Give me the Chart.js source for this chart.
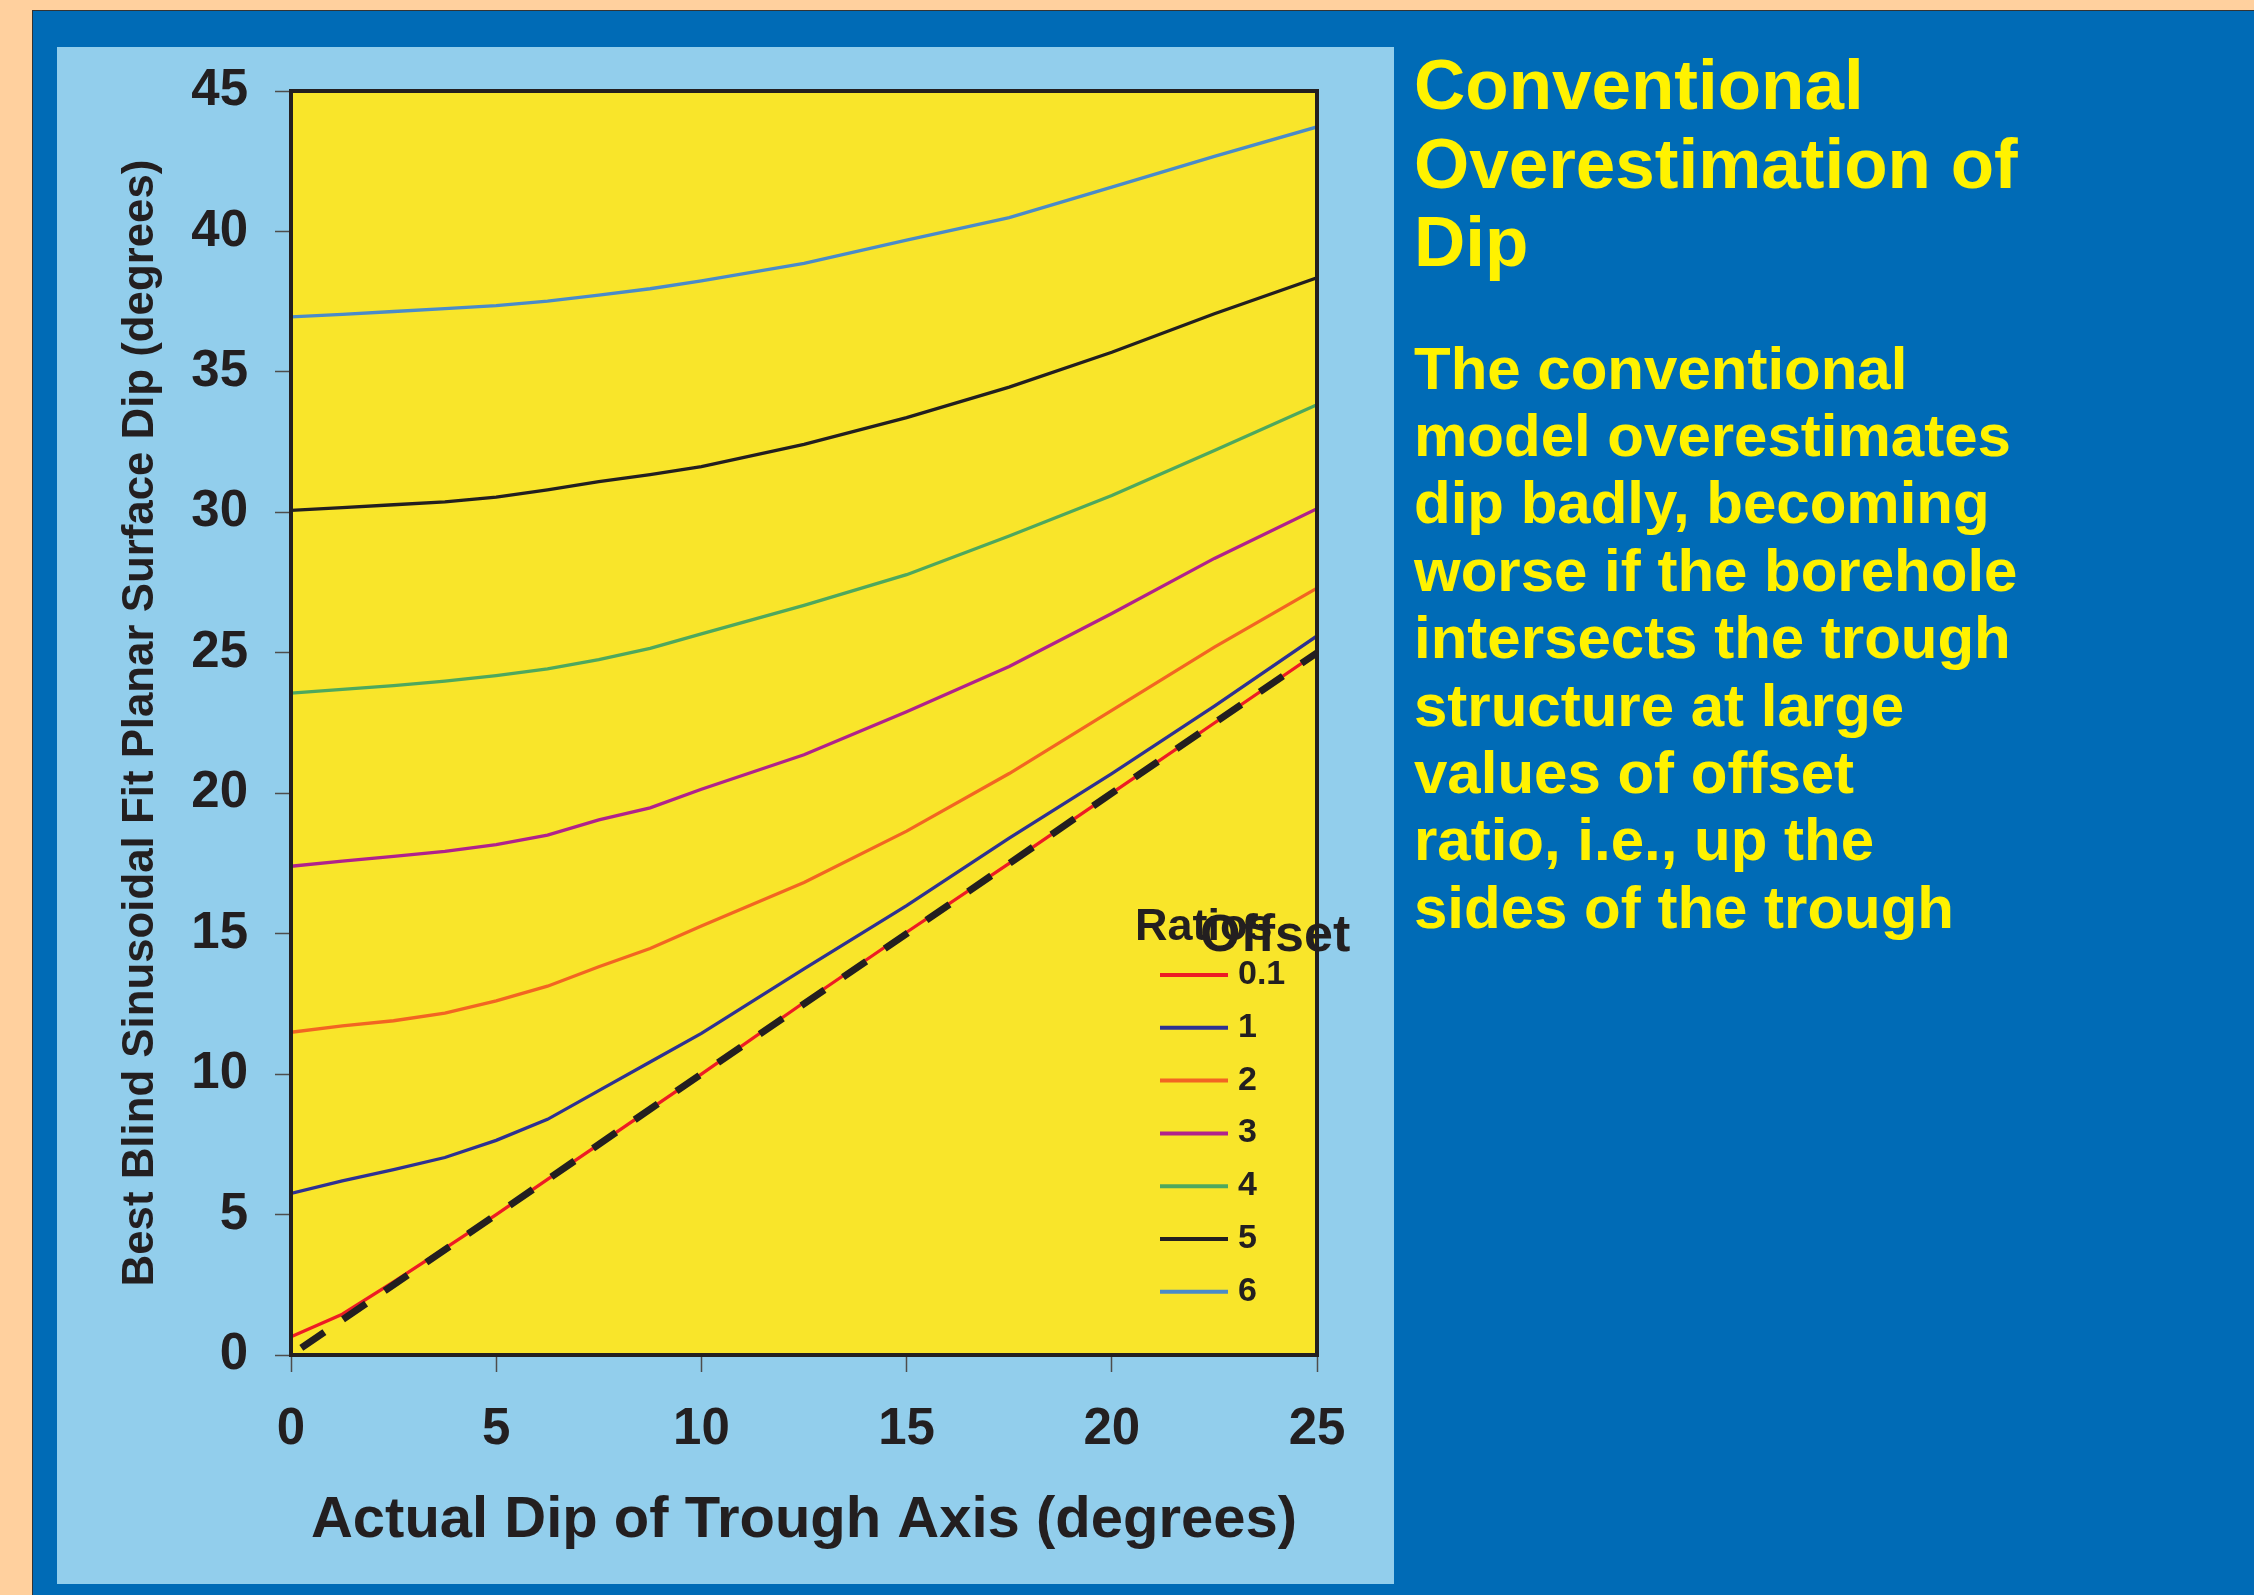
<!DOCTYPE html>
<html>
<head>
<meta charset="utf-8">
<script src="https://cdn.jsdelivr.net/npm/chart.js@4.4.1/dist/chart.umd.min.js"></script>
<style>
  html, body { margin:0; padding:0; width:2254px; height:1595px; overflow:hidden; background:#FFD09E; }
  #bluePanel { position:absolute; left:32px; top:10px; width:2222px; height:1585px; background:#006BB6;
               border-top:1px solid #333; border-left:1px solid #333; box-sizing:border-box; }
  #lightPanel { position:absolute; left:57px; top:47px; width:1337px; height:1537px; background:#92CEEC; }
  #chartCanvas { position:absolute; left:57px; top:47px; }
  .txt { position:absolute; color:#FFF200; font-family:"Liberation Sans", Arial, sans-serif; font-weight:bold; white-space:nowrap; }
  #title { left:1414px; top:46px; font-size:71px; line-height:78.5px; }
  #body { left:1414px; top:334.5px; font-size:60px; line-height:67.4px; }
</style>
</head>
<body>
<div id="bluePanel"></div>
<div id="lightPanel"></div>
<canvas id="chartCanvas" width="1337" height="1537"></canvas>
<div class="txt" id="title">Conventional<br>Overestimation of<br>Dip</div>
<div class="txt" id="body">The conventional<br>model overestimates<br>dip badly, becoming<br>worse if the borehole<br>intersects the trough<br>structure at large<br>values of offset<br>ratio, i.e., up the<br>sides of the trough</div>
<script>
// ---- data ----
const actualDip = [0, 1.25, 2.5, 3.75, 5, 6.25, 7.5, 8.75, 10, 12.5, 15, 17.5, 20, 22.5, 25];
const ratio01 = [0.65, 1.45, 2.6, 3.8, 5.0, 6.25, 7.5, 8.75, 10.0, 12.55, 15.05, 17.5, 20.0, 22.5, 25.0];
const ratio1  = [5.75, 6.2, 6.6, 7.03, 7.64, 8.39, 9.41, 10.43, 11.45, 13.75, 16.0, 18.4, 20.7, 23.1, 25.6];
const ratio2  = [11.49, 11.72, 11.9, 12.17, 12.61, 13.13, 13.82, 14.47, 15.27, 16.82, 18.65, 20.7, 22.95, 25.2, 27.3];
const ratio3  = [17.4, 17.58, 17.75, 17.93, 18.17, 18.51, 19.05, 19.48, 20.14, 21.37, 22.9, 24.51, 26.4, 28.36, 30.13];
const ratio4  = [23.56, 23.7, 23.83, 23.99, 24.19, 24.43, 24.76, 25.16, 25.67, 26.69, 27.78, 29.16, 30.6, 32.2, 33.83];
const ratio5  = [30.07, 30.17, 30.27, 30.37, 30.54, 30.8, 31.09, 31.34, 31.63, 32.42, 33.37, 34.46, 35.7, 37.07, 38.35];
const ratio6  = [36.96, 37.05, 37.15, 37.25, 37.36, 37.52, 37.73, 37.96, 38.24, 38.86, 39.69, 40.49, 41.58, 42.67, 43.72];
const refX = [0, 25];
const refY = [0, 25];
const seriesLabels = ["0.1", "1", "2", "3", "4", "5", "6"];
const seriesValues = [ratio01, ratio1, ratio2, ratio3, ratio4, ratio5, ratio6];
const seriesColors = ["#ED1C24", "#2E3192", "#F26522", "#B0228C", "#4EA85E", "#231F20", "#4A8BC9"];
const legendTitleA = "Ratios";
const legendTitleB = "Offset";
const xTitle = "Actual Dip of Trough Axis (degrees)";
const yTitle = "Best Blind Sinusoidal Fit Planar Surface Dip (degrees)";

const FONT = '"Liberation Sans", Arial, Helvetica, sans-serif';
const DARK = '#231F20';

const toPoints = (xs, ys) => xs.map((x, i) => ({x: x, y: ys[i]}));

const datasets = seriesValues.map((vals, i) => ({
  label: seriesLabels[i],
  data: toPoints(actualDip, vals),
  borderColor: seriesColors[i],
  borderWidth: 3.3,
  pointRadius: 0,
  tension: 0,
  fill: false,
  order: 1
}));
datasets.push({
  label: "reference",
  isReference: true,
  data: toPoints(refX, refY),
  borderColor: DARK,
  borderWidth: 7,
  borderDash: [28, 22.5],
  borderDashOffset: 38,
  borderCapStyle: 'butt',
  pointRadius: 0,
  tension: 0,
  fill: false,
  order: 0
});

const plotDecor = {
  id: 'plotDecor',
  beforeDatasetsDraw(chart) {
    const {ctx, chartArea: a} = chart;
    ctx.save();
    ctx.fillStyle = '#F9E52A';
    ctx.fillRect(a.left, a.top, a.right - a.left, a.bottom - a.top);
    ctx.restore();
  },
  afterDatasetsDraw(chart) {
    const {ctx, chartArea: a} = chart;
    ctx.save();
    ctx.strokeStyle = DARK;
    ctx.lineWidth = 4;
    ctx.strokeRect(a.left, a.top, a.right - a.left, a.bottom - a.top);
    ctx.restore();
  },
  afterDraw(chart) {
    const {ctx, chartArea: a} = chart;
    ctx.save();
    ctx.fillStyle = DARK;
    ctx.textAlign = 'left';
    ctx.textBaseline = 'alphabetic';
    ctx.font = 'bold 45px ' + FONT;
    ctx.fillText(legendTitleA, a.right - 182, a.top + 849);
    ctx.font = 'bold 52px ' + FONT;
    ctx.fillText(legendTitleB, a.right - 117, a.top + 860);
    const items = chart.data.datasets.filter(d => !d.isReference);
    items.forEach((d, i) => {
      const y = a.top + 884 + i * 52.8;
      ctx.strokeStyle = d.borderColor;
      ctx.lineWidth = 4;
      ctx.beginPath();
      ctx.moveTo(a.right - 157, y);
      ctx.lineTo(a.right - 89, y);
      ctx.stroke();
      ctx.font = 'bold 34px ' + FONT;
      ctx.fillStyle = DARK;
      ctx.fillText(d.label, a.right - 79, y + 9);
    });
    ctx.restore();
  }
};

new Chart(document.getElementById('chartCanvas'), {
  type: 'line',
  data: { datasets: datasets },
  options: {
    responsive: false,
    animation: false,
    devicePixelRatio: 1,
    layout: { padding: { left: 0, top: 44, right: 77, bottom: 0 } },
    plugins: { legend: { display: false }, tooltip: { enabled: false } },
    scales: {
      x: {
        type: 'linear', min: 0, max: 25,
        ticks: { stepSize: 5, color: DARK, padding: 27, maxRotation: 0,
                 font: { family: FONT, size: 51, weight: 'bold' } },
        grid: { drawOnChartArea: false, drawTicks: true, tickLength: 17, tickColor: '#4d4d4d', tickWidth: 1.5 },
        border: { display: false },
        title: { display: true, text: xTitle, color: DARK, padding: { top: 0, bottom: 28 },
                 font: { family: FONT, size: 58, weight: 'bold' } },
        afterFit(s) { s.height = 229; s.paddingLeft = 0; s.paddingRight = 0; }
      },
      y: {
        type: 'linear', min: 0, max: 45,
        ticks: { stepSize: 5, color: DARK, padding: 27,
                 font: { family: FONT, size: 51, weight: 'bold' } },
        grid: { drawOnChartArea: false, drawTicks: true, tickLength: 16, tickColor: '#4d4d4d', tickWidth: 1.5 },
        border: { display: false },
        title: { display: true, text: yTitle, color: DARK, padding: { top: 58, bottom: 0 },
                 font: { family: FONT, size: 43.8, weight: 'bold' } },
        afterFit(s) { s.width = 234; s.paddingTop = 0; s.paddingBottom = 0; }
      }
    }
  },
  plugins: [plotDecor]
});
</script>
</body>
</html>
